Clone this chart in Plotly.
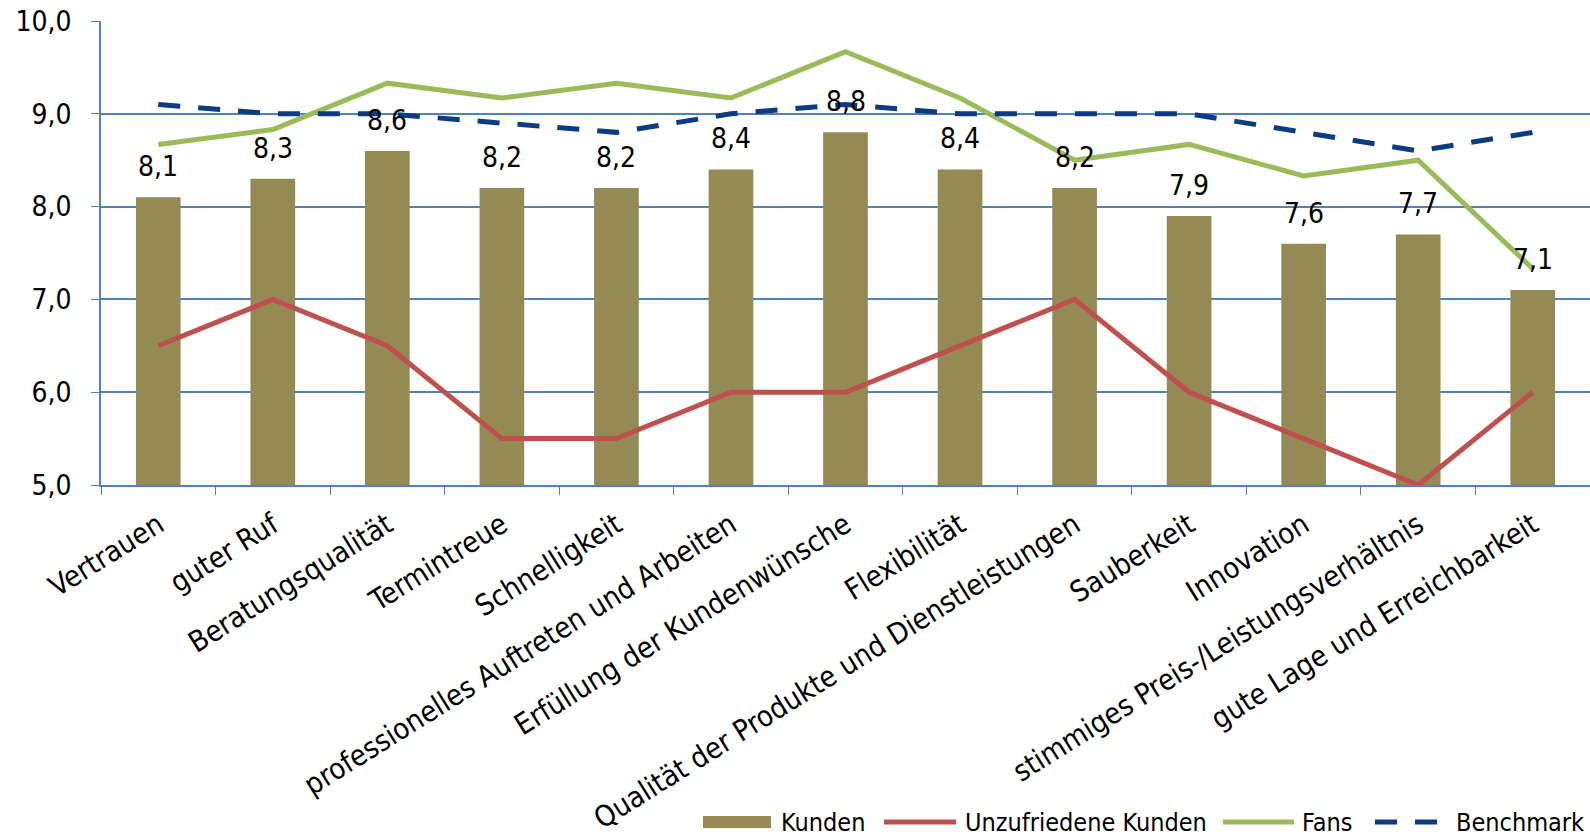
import plotly.graph_objects as go

categories = [
    "Vertrauen", "guter Ruf", "Beratungsqualität", "Termintreue", "Schnelligkeit",
    "professionelles Auftreten und Arbeiten", "Erfüllung der Kundenwünsche",
    "Flexibilität", "Qualität der Produkte und Dienstleistungen", "Sauberkeit",
    "Innovation", "stimmiges Preis-/Leistungsverhältnis", "gute Lage und Erreichbarkeit",
]
kunden = [8.1, 8.3, 8.6, 8.2, 8.2, 8.4, 8.8, 8.4, 8.2, 7.9, 7.6, 7.7, 7.1]
unzufriedene = [6.5, 7.0, 6.5, 5.5, 5.5, 6.0, 6.0, 6.5, 7.0, 6.0, 5.5, 5.0, 6.0]
fans = [8.67, 8.83, 9.33, 9.17, 9.33, 9.17, 9.67, 9.17, 8.5, 8.67, 8.33, 8.5, 7.33]
benchmark = [9.1, 9.0, 9.0, 8.9, 8.8, 9.0, 9.1, 9.0, 9.0, 9.0, 8.8, 8.6, 8.8]
y_ticks = [5, 6, 7, 8, 9, 10]

FONT = "DejaVu Sans Condensed"
W, H = 1590, 838
ML, MR, MT, MB = 101, 0, 21, 353

C_KUNDEN = "#948A54"
C_UNZUF = "#C0504D"
C_FANS = "#9BBB59"
C_BENCH = "#0B3C83"
C_GRID = "#4F81BD"
DASH = "22px,18px"
LW = 5

fig = go.Figure()
fig.add_trace(go.Bar(
    x=categories, y=kunden, name="Kunden",
    marker=dict(color=C_KUNDEN, line=dict(width=0)),
    showlegend=False,
))
fig.add_trace(go.Scatter(
    x=categories, y=unzufriedene, name="Unzufriedene Kunden", mode="lines",
    line=dict(color=C_UNZUF, width=LW), showlegend=False,
))
fig.add_trace(go.Scatter(
    x=categories, y=fans, name="Fans", mode="lines",
    line=dict(color=C_FANS, width=LW), showlegend=False,
))
fig.add_trace(go.Scatter(
    x=categories, y=benchmark, name="Benchmark", mode="lines",
    line=dict(color=C_BENCH, width=LW, dash=DASH), showlegend=False,
))

# value labels above the bars
for cat, v in zip(categories, kunden):
    fig.add_annotation(
        x=cat, y=v, text=f"{v:.1f}".replace(".", ","),
        showarrow=False, yanchor="bottom", yshift=12,
        font=dict(size=28, color="black", family=FONT),
    )

# legend along the bottom edge, drawn in pixel positions
plot_w = W - ML - MR
plot_h = H - MT - MB


def px(x):
    return (x - ML) / plot_w


def py(y):
    return (H - MB - y) / plot_h


LEG_Y = 822
legend_items = [
    ("Kunden", "box", C_KUNDEN, 703, 771, 779),
    ("Unzufriedene Kunden", "line", C_UNZUF, 884, 956, 963),
    ("Fans", "line", C_FANS, 1223, 1294, 1300),
    ("Benchmark", "dash", C_BENCH, 1375, 1437, 1454),
]
for label, kind, color, x0, x1, tx in legend_items:
    if kind == "box":
        fig.add_shape(type="rect", xref="paper", yref="paper",
                      x0=px(x0), x1=px(x1), y0=py(LEG_Y - 6), y1=py(LEG_Y + 6),
                      fillcolor=color, line=dict(width=0))
    elif kind == "line":
        fig.add_shape(type="line", xref="paper", yref="paper",
                      x0=px(x0), x1=px(x1), y0=py(LEG_Y), y1=py(LEG_Y),
                      line=dict(color=color, width=LW))
    else:
        fig.add_shape(type="line", xref="paper", yref="paper",
                      x0=px(x0), x1=px(x1), y0=py(LEG_Y), y1=py(LEG_Y),
                      line=dict(color=color, width=LW, dash=DASH))
    fig.add_annotation(
        xref="paper", yref="paper", x=px(tx), y=py(LEG_Y),
        xanchor="left", yanchor="middle", text=label, showarrow=False,
        font=dict(size=25, color="black", family=FONT),
    )

fig.update_layout(
    width=W, height=H,
    margin=dict(l=ML, r=MR, t=MT, b=MB),
    plot_bgcolor="white", paper_bgcolor="white",
    separators=",.",
    bargap=0.61,
    font=dict(family=FONT, size=24, color="black"),
    showlegend=False,
)
fig.update_xaxes(
    tickangle=-32, tickfont=dict(size=29, family=FONT),
    showline=True, linecolor=C_GRID, linewidth=1.5,
    ticks="outside", ticklen=8, tickcolor=C_GRID, tickson="boundaries",
    ticklabelstandoff=10,
    showgrid=False, automargin=False,
)
fig.update_yaxes(
    range=[5, 10], tickvals=y_ticks, tickformat=".1f",
    tickfont=dict(size=28, family=FONT),
    showgrid=True, gridcolor=C_GRID, gridwidth=1.5,
    showline=True, linecolor=C_GRID, linewidth=1.5,
    ticks="outside", ticklen=8, tickcolor=C_GRID,
    ticklabelstandoff=14,
    zeroline=False, automargin=False,
)

fig.write_html("out.html")
